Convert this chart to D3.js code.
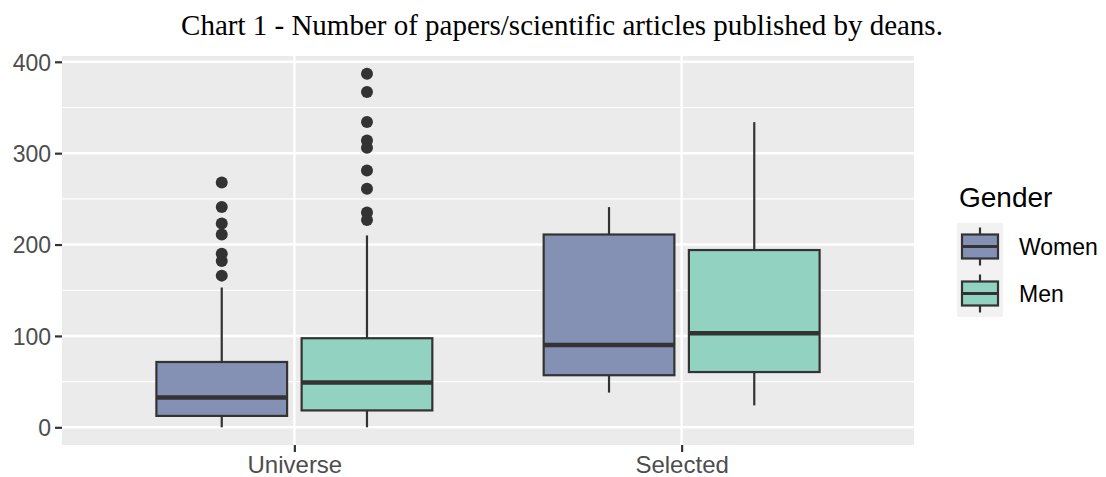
<!DOCTYPE html>
<html>
<head>
<meta charset="utf-8">
<script src="https://cdn.jsdelivr.net/npm/d3@7"></script>
<style>
  body { margin: 0; background: #fff; }
  svg { display: block; }
</style>
</head>
<body>
<svg id="chart"></svg>
<script>
// categories and groups
const groups = ['Universe', 'Selected']
const genders = ['Women', 'Men']

// one entry per box
const boxGroup = ['Universe', 'Universe', 'Selected', 'Selected']
const boxGender = ['Women', 'Men', 'Women', 'Men']
const whiskerLow = [0, 0, 38, 24]
const q1 = [12.5, 18.5, 57, 60.5]
const median = [32.5, 49, 90, 103]
const q3 = [71.5, 97.5, 211, 194]
const whiskerHigh = [153, 210, 241, 334]
const outliers = [
  [166, 182, 190, 211, 223, 241, 268],
  [227, 235, 261, 281, 306, 314, 334, 367, 387],
  [],
  []
]

const yTicks = [0, 100, 200, 300, 400]
const yMinor = [50, 150, 250, 350]

const title = 'Chart 1 - Number of papers/scientific articles published by deans.'
const fills = { Women: '#8591B4', Men: '#91D2C1' }

const width = 1106, height = 477
const panel = { left: 62, right: 914, top: 56, bottom: 445 }

const svg = d3.select('#chart').attr('width', width).attr('height', height)

// y range like ggplot: data range plus 5% each side
const allVals = whiskerLow.concat(whiskerHigh, outliers.flat())
const yMin = d3.min(allVals), yMax = d3.max(allVals)
const pad = (yMax - yMin) * 0.05
const y = d3.scaleLinear()
  .domain([yMin - pad, yMax + pad])
  .range([panel.bottom, panel.top])

const x = d3.scalePoint()
  .domain(groups)
  .range([panel.left, panel.right])
  .padding(0.6)

const groupW = x.step() * 0.75
const dodge = d3.scaleBand()
  .domain(genders)
  .range([-groupW / 2, groupW / 2])
  .paddingInner(0.1)
  .paddingOuter(0.05)

// panel background and grid
svg.append('rect')
  .attr('x', panel.left).attr('y', panel.top)
  .attr('width', panel.right - panel.left)
  .attr('height', panel.bottom - panel.top)
  .attr('fill', '#EBEBEB')

svg.selectAll('.minor')
  .data(yMinor)
  .enter().append('line')
  .attr('x1', panel.left).attr('x2', panel.right)
  .attr('y1', d => y(d)).attr('y2', d => y(d))
  .attr('stroke', '#fff').attr('stroke-width', 1.2)

svg.selectAll('.major')
  .data(yTicks)
  .enter().append('line')
  .attr('x1', panel.left).attr('x2', panel.right)
  .attr('y1', d => y(d)).attr('y2', d => y(d))
  .attr('stroke', '#fff').attr('stroke-width', 2.4)

svg.selectAll('.vgrid')
  .data(groups)
  .enter().append('line')
  .attr('x1', d => x(d)).attr('x2', d => x(d))
  .attr('y1', panel.top).attr('y2', panel.bottom)
  .attr('stroke', '#fff').attr('stroke-width', 2.4)

// axes
const yAxis = svg.append('g')
  .attr('transform', `translate(${panel.left},0)`)
  .call(d3.axisLeft(y).tickValues(yTicks).tickSize(7).tickPadding(4))
yAxis.select('.domain').remove()
yAxis.selectAll('line').attr('stroke', '#333').attr('stroke-width', 2.2)
yAxis.selectAll('text')
  .attr('fill', '#4D4D4D')
  .style('font-family', '"Liberation Sans", Arial, sans-serif')
  .style('font-size', '23px')
  .attr('dy', '0.36em')

const xAxis = svg.append('g')
  .attr('transform', `translate(0,${panel.bottom})`)
  .call(d3.axisBottom(x).tickSize(7).tickPadding(6))
xAxis.select('.domain').remove()
xAxis.selectAll('line').attr('stroke', '#333').attr('stroke-width', 2.2)
xAxis.selectAll('text')
  .attr('fill', '#4D4D4D')
  .attr('y', 27.5).attr('dy', 0)
  .style('font-family', '"Liberation Sans", Arial, sans-serif')
  .style('font-size', '24px')

// boxes
const boxes = boxGroup.map((g, i) => ({
  gender: boxGender[i],
  cx: x(g) + dodge(boxGender[i]) + dodge.bandwidth() / 2,
  lo: whiskerLow[i], q1: q1[i], med: median[i], q3: q3[i], hi: whiskerHigh[i],
  out: outliers[i]
}))

const bw = dodge.bandwidth()
const boxG = svg.selectAll('.box')
  .data(boxes)
  .enter().append('g')

boxG.append('line')
  .attr('x1', d => d.cx).attr('x2', d => d.cx)
  .attr('y1', d => y(d.q3)).attr('y2', d => y(d.hi))
  .attr('stroke', '#333').attr('stroke-width', 2.2)
boxG.append('line')
  .attr('x1', d => d.cx).attr('x2', d => d.cx)
  .attr('y1', d => y(d.q1)).attr('y2', d => y(d.lo))
  .attr('stroke', '#333').attr('stroke-width', 2.2)
boxG.append('rect')
  .attr('x', d => d.cx - bw / 2).attr('width', bw)
  .attr('y', d => y(d.q3)).attr('height', d => y(d.q1) - y(d.q3))
  .attr('fill', d => fills[d.gender])
  .attr('stroke', '#333').attr('stroke-width', 2.2)
boxG.append('line')
  .attr('x1', d => d.cx - bw / 2).attr('x2', d => d.cx + bw / 2)
  .attr('y1', d => y(d.med)).attr('y2', d => y(d.med))
  .attr('stroke', '#333').attr('stroke-width', 4.5)
boxG.selectAll('circle')
  .data(d => d.out.map(v => ({ cx: d.cx, v })))
  .enter().append('circle')
  .attr('cx', d => d.cx).attr('cy', d => y(d.v))
  .attr('r', 6)
  .attr('fill', '#333')

// title
svg.append('text')
  .attr('x', 562).attr('y', 35)
  .attr('text-anchor', 'middle')
  .style('font-family', '"Liberation Serif", "Times New Roman", serif')
  .style('font-size', '29px')
  .attr('fill', '#000')
  .text(title)

// legend
const legend = svg.append('g').attr('transform', 'translate(957,0)')
legend.append('text')
  .attr('x', 2).attr('y', 207)
  .style('font-family', '"Liberation Sans", Arial, sans-serif')
  .style('font-size', '28px')
  .attr('fill', '#000')
  .text('Gender')

const keyH = 47
legend.append('rect')
  .attr('x', 0).attr('y', 223)
  .attr('width', 46).attr('height', keyH * genders.length)
  .attr('fill', '#F2F2F2')

const keys = legend.selectAll('.key')
  .data(genders)
  .enter().append('g')
  .attr('transform', (d, i) => `translate(23,${223 + keyH * i + keyH / 2})`)

keys.append('line')
  .attr('y1', -19).attr('y2', 19)
  .attr('stroke', '#333').attr('stroke-width', 2.2)
keys.append('rect')
  .attr('x', -18).attr('y', -12).attr('width', 36).attr('height', 24)
  .attr('fill', d => fills[d])
  .attr('stroke', '#333').attr('stroke-width', 2.2)
keys.append('line')
  .attr('x1', -18).attr('x2', 18)
  .attr('stroke', '#333').attr('stroke-width', 3)
keys.append('text')
  .attr('x', 39).attr('dy', '0.36em')
  .style('font-family', '"Liberation Sans", Arial, sans-serif')
  .style('font-size', '23px')
  .attr('fill', '#000')
  .text(d => d)
</script>
</body>
</html>
